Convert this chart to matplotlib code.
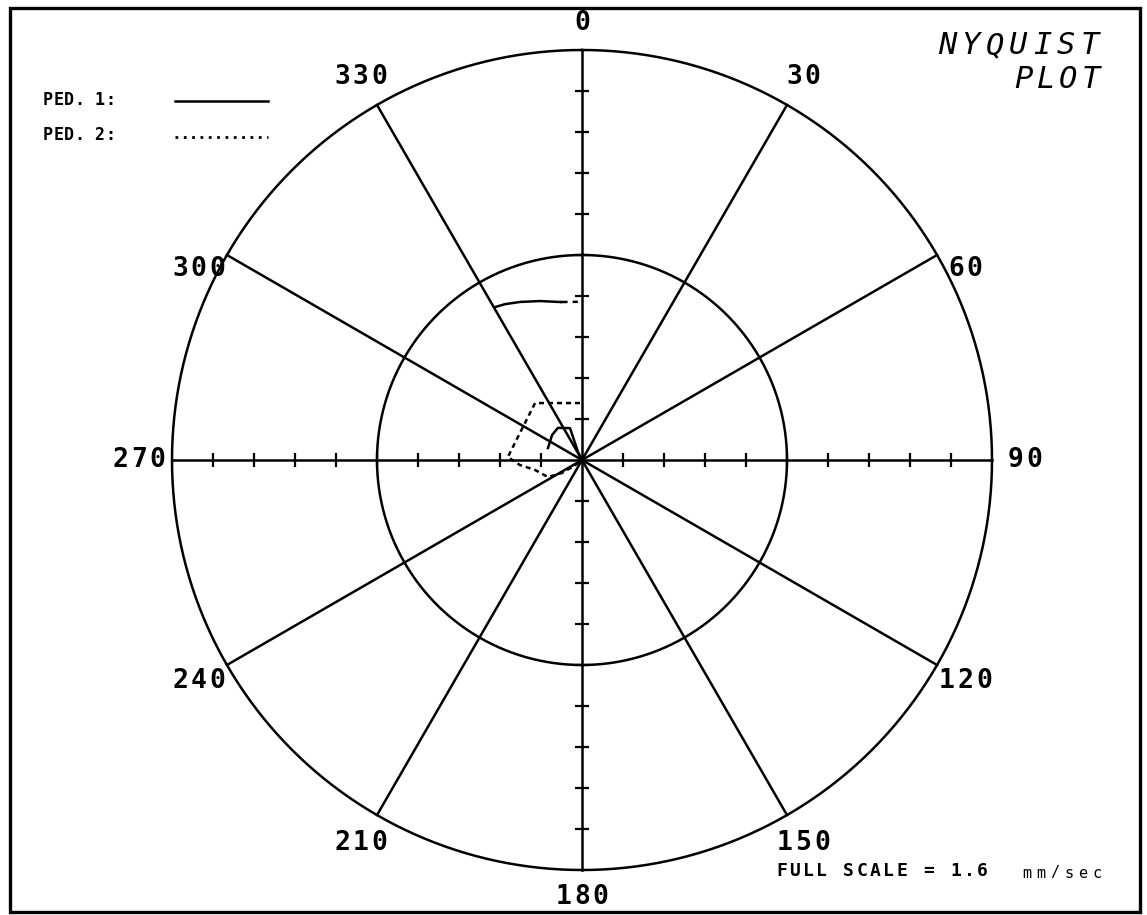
import numpy as np
import matplotlib
matplotlib.use("Agg")
import matplotlib.pyplot as plt
from matplotlib.lines import Line2D
from matplotlib.patches import Rectangle

W, H = 1147, 915
CX, CY, R = 582, 460, 410   # circle centre / full-scale radius in pixels

# grid
spoke_deg = np.arange(0, 360, 30)
ring_r = [0.5, 1.0]
tick_r = np.arange(1, 10) / 10.0

# pedestal responses, magnitude (fraction of full scale) and phase (deg, clockwise from 0)
ped1_far_mag = [0.429, 0.424, 0.414, 0.401, 0.389, 0.386]
ped1_far_ph = [330.4, 333.7, 338.6, 345.2, 352.1, 358.5]
ped1_mag = [0.088, 0.095, 0.098, 0.083, 0.053, 0.022, 0.0]
ped1_ph = [289.4, 309.8, 323.1, 339.4, 338.2, 333.4, 0.0]
ped2_mag = [0.139, 0.180, 0.165, 0.181, 0.152, 0.117, 0.093, 0.058, 0.024, 0.0]
ped2_ph = [358.0, 320.5, 299.2, 272.3, 265.4, 258.0, 243.4, 237.0, 233.0, 0.0]

MONO = "DejaVu Sans Mono"


def xy(mag, ph):
    ph = np.radians(ph)
    return np.asarray(mag) * np.sin(ph), np.asarray(mag) * np.cos(ph)


fig = plt.figure(figsize=(W / 100, H / 100), dpi=100)
ax = fig.add_axes([0, 0, 1, 1])
ax.set_xlim(-CX / R, (W - CX) / R)
ax.set_ylim((CY - H) / R, CY / R)
ax.axis("off")


def ptext(px, py, s, size, pitch, **kw):
    # plotter style text: one glyph per cell, centred on (px, py) in pixels
    n = len(s)
    for i, ch in enumerate(s):
        x = px + (i - (n - 1) / 2.0) * pitch
        fig.text(x / W, 1 - py / H, ch, fontsize=size, family=MONO,
                 ha="center", va="center", **kw)


lw = 1.8
t = np.linspace(0, 2 * np.pi, 721)
for r in ring_r:
    ax.plot(r * np.sin(t), r * np.cos(t), color="black", lw=lw)

for a in spoke_deg:
    x, y = xy([0, 1], [a, a])
    ax.plot(x, y, color="black", lw=lw)

# tick crosses on the axes
ticks = np.concatenate([-tick_r[::-1], tick_r])
ax.plot(ticks, np.zeros_like(ticks), ls="none", marker="|", ms=10, mew=1.6, color="black")
ax.plot(np.zeros_like(ticks), ticks, ls="none", marker="_", ms=10, mew=1.6, color="black")

# data
x, y = xy(ped1_far_mag, ped1_far_ph)
ax.plot(x[:-1], y[:-1], color="black", lw=1.8)
ax.plot(x[-2:], y[-2:], color="black", lw=1.8, ls=(0, (3, 2)))
x, y = xy(ped1_mag, ped1_ph)
ax.plot(x, y, color="black", lw=1.8)
x, y = xy(ped2_mag, ped2_ph)
ax.plot(x, y, color="black", lw=1.8, ls=(0, (2, 1.6)))

# angle labels
for a in spoke_deg:
    rr = 1.065 if a in (0, 180) else 1.08
    px = CX + rr * R * np.sin(np.radians(a))
    py = CY - rr * R * np.cos(np.radians(a))
    if a in (60, 300):
        py += 30
    ptext(px, py, str(a), 19, 18.5, fontweight="bold")

# frame
fig.add_artist(Rectangle((10 / W, 1 - 912 / H), 1130 / W, 904 / H, fill=False,
                         lw=2.4, color="black", transform=fig.transFigure))

# legend
ptext(79, 100, "PED. 1:", 12, 10.3, fontweight="bold")
ptext(79, 135, "PED. 2:", 12, 10.3, fontweight="bold")
fig.add_artist(Line2D([175 / W, 268 / W], [1 - 101 / H] * 2, lw=1.8, color="black"))
fig.add_artist(Line2D([175 / W, 268 / W], [1 - 137 / H] * 2, lw=2.0, color="black",
                      ls=(0, (1, 2))))

# title
ptext(1018.5, 46, "NYQUIST", 22, 23.9, style="italic")
ptext(1057, 80, "PLOT", 22, 22.5, style="italic")

# scale note
ptext(882, 871, "FULL SCALE = 1.6", 13, 13.4, fontweight="bold")
ptext(1062, 873, "mm/sec", 11, 14)

fig.savefig("out.png", dpi=100)
